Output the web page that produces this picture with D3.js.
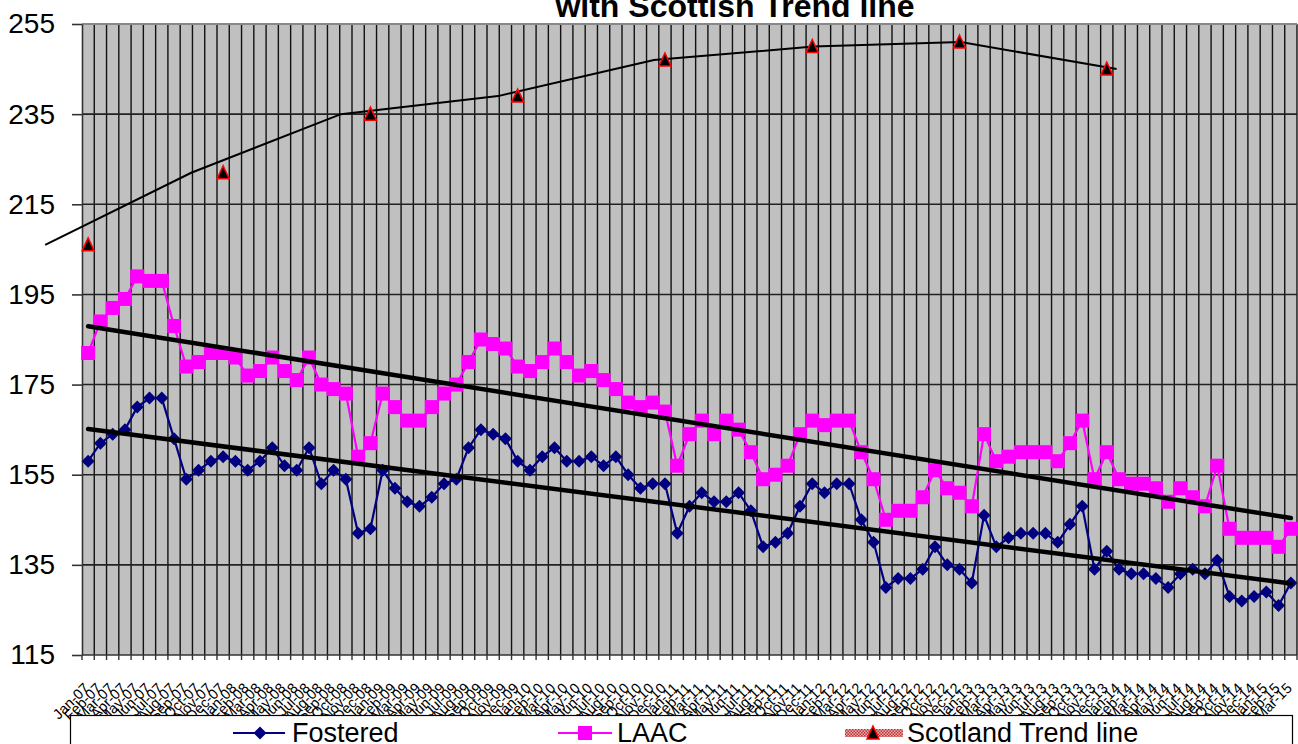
<!DOCTYPE html>
<html>
<head>
<meta charset="utf-8">
<script src="https://cdn.jsdelivr.net/npm/d3@7"></script>
<style>
  html, body { margin: 0; padding: 0; background: #ffffff; }
  svg { display: block; }
  text { font-family: "Liberation Sans", Arial, sans-serif; }
</style>
</head>
<body>
<svg id="chart" width="1298" height="744"></svg>
<script>
// ---------------- DATA ----------------
const titleText = "with Scottish Trend line";
const seriesNames = ["Fostered", "LAAC", "Scotland Trend line"];
const yTicks = [115, 135, 155, 175, 195, 215, 235, 255];
// Monthly categories Jan-07 .. Mar-15 (99 months)
const months = d3.timeMonths(new Date(2007, 0, 1), new Date(2015, 3, 1));
const fmtMonth = d3.timeFormat("%b-%y");
const categories = months.map(fmtMonth);

const fostered = [158,162,164,165,170,172,172,163,154,156,158,159,158,156,158,161,157,156,161,153,156,154,142,143,156,
  152,149,148,150,153,154,161,165,164,163,158,156,159,161,158,158,159,157,159,155,152,153,153,142,
  148,151,149,149,151,147,139,140,142,148,153,151,153,153,145,140,130,132,132,134,139,135,134,131,146,
  139,141,142,142,142,140,144,148,134,138,134,133,133,132,130,133,134,133,136,128,127,128,129,126,131];

const laac = [182,189,192,194,199,198,198,188,179,180,182,182,181,177,178,181,178,176,181,175,174,173,159,162,173,
  170,167,167,170,173,175,180,185,184,183,179,178,180,183,180,177,178,176,174,171,170,171,169,157,
  164,167,164,167,165,160,154,155,157,164,167,166,167,167,160,154,145,147,147,150,156,152,151,148,164,
  158,159,160,160,160,158,162,167,154,160,154,153,153,152,149,152,150,148,157,143,141,141,141,139,143];

// Scotland yearly values: triangle markers (month index) and the drawn trend line (month position)
const scotValues = [206, 222, 235, 239, 247, 250, 251, 245];
const scotMarkerMonth = [0, 11, 23, 35, 47, 59, 71, 83];
const scotLineMonth = [-3.5, 8.4, 20.6, 33.4, 46.1, 59.1, 71.1, 83.8];

// ---------------- LAYOUT ----------------
const svg = d3.select("#chart");
const L = 82, R = 1297, T = 24, B = 655;
const n = categories.length;

const x = d3.scaleLinear().domain([-0.5, n - 0.5]).range([L, R]);
const y = d3.scaleLinear().domain([115, 255]).range([B, T]);

const defs = svg.append("defs");
const pat = defs.append("pattern").attr("id", "hatch").attr("patternUnits", "userSpaceOnUse")
  .attr("width", 3).attr("height", 3);
pat.append("rect").attr("width", 3).attr("height", 3).attr("fill", "#e8b0b0");
pat.append("rect").attr("width", 1.5).attr("height", 1.5).attr("fill", "#c03030");
pat.append("rect").attr("x", 1.5).attr("y", 1.5).attr("width", 1.5).attr("height", 1.5).attr("fill", "#c03030");

// Plot background
svg.append("rect").attr("x", L).attr("y", T).attr("width", R - L).attr("height", B - T).attr("fill", "#c0c0c0");

// Vertical gridlines at category boundaries
svg.append("g").selectAll("line").data(d3.range(1, n + 1)).join("line")
  .attr("x1", d => x(d - 0.5)).attr("x2", d => x(d - 0.5))
  .attr("y1", T).attr("y2", B)
  .attr("stroke", "#111").attr("stroke-width", 1.4);

// Horizontal gridlines
svg.append("g").selectAll("line").data(yTicks.filter(v => v > 115 && v < 255)).join("line")
  .attr("x1", L).attr("x2", R).attr("y1", d => y(d)).attr("y2", d => y(d))
  .attr("stroke", "#222").attr("stroke-width", 1.6);
// top border
svg.append("line").attr("x1", L).attr("x2", R).attr("y1", y(255)).attr("y2", y(255))
  .attr("stroke", "#888").attr("stroke-width", 2);

// Y axis
const yAxis = d3.axisLeft(y).tickValues(yTicks).tickSize(10).tickPadding(16).tickSizeOuter(0);
const gy = svg.append("g").attr("transform", `translate(${L},0)`).call(yAxis);
gy.select(".domain").attr("stroke", "#333").attr("stroke-width", 1.6);
gy.selectAll(".tick line").attr("stroke", "#333").attr("stroke-width", 1.6);
gy.selectAll(".tick text").attr("font-size", 28).attr("fill", "#000")
  .attr("font-family", "Liberation Sans, Arial, sans-serif").attr("x", -27);

// X axis: ticks at boundaries, labels at centres
svg.append("line").attr("x1", L).attr("x2", R).attr("y1", B).attr("y2", B).attr("stroke", "#333").attr("stroke-width", 1.6);
svg.append("g").selectAll("line").data(d3.range(0, n + 1)).join("line")
  .attr("x1", d => x(d - 0.5)).attr("x2", d => x(d - 0.5))
  .attr("y1", B).attr("y2", B + 5).attr("stroke", "#333").attr("stroke-width", 1.4);
svg.append("g").selectAll("text").data(categories).join("text")
  .attr("transform", (d, i) => `translate(${x(i) + 2},${B + 34}) rotate(-45)`)
  .attr("text-anchor", "end").attr("font-size", 14.5).attr("fill", "#000")
  .text(d => d);

// Title (partly cut off at top)
svg.append("text").attr("x", 735).attr("y", 17).attr("text-anchor", "middle")
  .attr("font-size", 32).attr("font-weight", "bold").attr("fill", "#000").text(titleText);

// Scotland trend line (drawn line) + triangle markers
const scotLine = d3.line().x(d => x(d[0])).y(d => y(d[1]));
svg.append("path").attr("d", scotLine(scotLineMonth.map((m, i) => [m, scotValues[i]])))
  .attr("fill", "none").attr("stroke", "#000").attr("stroke-width", 2);

// Series lines
const line = d3.line().x((d, i) => x(i)).y(d => y(d));
svg.append("path").attr("d", line(laac)).attr("fill", "none").attr("stroke", "#ff00ff").attr("stroke-width", 2.2);
svg.append("path").attr("d", line(fostered)).attr("fill", "none").attr("stroke", "#000080").attr("stroke-width", 2.2);

// markers
const diamond = "M0,-6.5L6.5,0L0,6.5L-6.5,0Z";
const tri = "M0,-7L6,6L-6,6Z";
svg.append("g").selectAll("rect").data(laac).join("rect")
  .attr("x", (d, i) => x(i) - 7).attr("y", d => y(d) - 7).attr("width", 14).attr("height", 14)
  .attr("fill", "#ff00ff");
svg.append("g").selectAll("path").data(fostered).join("path")
  .attr("d", diamond).attr("transform", (d, i) => `translate(${x(i)},${y(d)})`)
  .attr("fill", "#000080");
svg.append("g").selectAll("path").data(scotValues).join("path")
  .attr("d", tri).attr("transform", (d, i) => `translate(${x(scotMarkerMonth[i])},${y(d)})`)
  .attr("fill", "#000").attr("stroke", "#ff0000").attr("stroke-width", 1.5);

// Linear trendlines (least squares)
function fit(vals) {
  const xs = vals.map((v, i) => i);
  const mx = d3.mean(xs), my = d3.mean(vals);
  const sxy = d3.sum(xs, (xi, i) => (xi - mx) * (vals[i] - my));
  const sxx = d3.sum(xs, xi => (xi - mx) * (xi - mx));
  const b = sxy / sxx, a = my - b * mx;
  return [[0, a], [vals.length - 1, a + b * (vals.length - 1)]];
}
const tl = d3.line().x(d => x(d[0])).y(d => y(d[1]));
[laac, fostered].forEach(s => {
  svg.append("path").attr("d", tl(fit(s))).attr("fill", "none").attr("stroke", "#000")
    .attr("stroke-width", 4.5).attr("stroke-linecap", "round");
});

// Legend
const lg = svg.append("g");
lg.append("rect").attr("x", 70.5).attr("y", 715.5).attr("width", 1222).attr("height", 60)
  .attr("fill", "#fff").attr("stroke", "#000").attr("stroke-width", 1.2);
const ly = 733;
// Fostered
lg.append("line").attr("x1", 233).attr("x2", 285).attr("y1", ly).attr("y2", ly).attr("stroke", "#000080").attr("stroke-width", 2.2);
lg.append("path").attr("d", diamond).attr("transform", `translate(260,${ly})`).attr("fill", "#000080");
lg.append("text").attr("x", 292).attr("y", 742).attr("font-size", 27).text(seriesNames[0]);
// LAAC
lg.append("line").attr("x1", 558).attr("x2", 612).attr("y1", ly).attr("y2", ly).attr("stroke", "#ff00ff").attr("stroke-width", 2.2);
lg.append("rect").attr("x", 578).attr("y", ly - 7).attr("width", 14).attr("height", 14).attr("fill", "#ff00ff");
lg.append("text").attr("x", 617).attr("y", 742).attr("font-size", 27).text(seriesNames[1]);
// Scotland
lg.append("rect").attr("x", 845).attr("y", ly - 4).attr("width", 58).attr("height", 8).attr("fill", "url(#hatch)");
lg.append("path").attr("d", tri).attr("transform", `translate(873,${ly})`).attr("fill", "#000").attr("stroke", "#ff0000").attr("stroke-width", 1.5);
lg.append("text").attr("x", 907).attr("y", 742).attr("font-size", 27).text(seriesNames[2]);
</script>
</body>
</html>
